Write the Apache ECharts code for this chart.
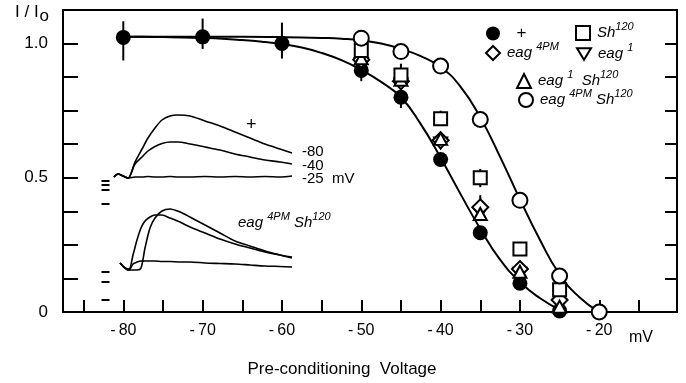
<!DOCTYPE html>
<html>
<head>
<meta charset="utf-8">
<script src="https://cdn.jsdelivr.net/npm/echarts@6/dist/echarts.min.js"></script>
<style>
html, body { margin: 0; background: #fff; }
#chart { width: 686px; height: 383px; }
</style>
</head>
<body>
<div id="chart"></div>
<script>
// main panel: inactivation vs pre-conditioning voltage
const xTicks = [-85, -80, -75, -70, -65, -60, -55, -50, -45, -40, -35, -30, -25, -20, -15]
const xLabels = [-80, -70, -60, -50, -40, -30, -20]

const wtVolts = [-80, -70, -60, -50, -45, -40, -35, -30, -25]
const wtVals = [1.023, 1.025, 1.0, 0.9, 0.8, 0.568, 0.295, 0.107, 0.004]

const mutVolts = [-50, -45, -40, -35, -30, -25]
const sh120Vals = [0.974, 0.883, 0.72, 0.5, 0.235, 0.083]
const eag4pmVals = [0.94, 0.86, 0.64, 0.39, 0.16, 0.045]
const eag1Vals = [0.925, 0.85, 0.63, 0.37, 0.145, 0.025]
const eag1ShVals = [0.945, 0.865, 0.645, 0.365, 0.15, 0.02]

const dblVolts = [-50, -45, -40, -35, -30, -25, -20]
const dblVals = [1.02, 0.97, 0.916, 0.717, 0.416, 0.134, 0.0]

// fitted curves
const fitWtV = [-80, -77.5, -75, -72.5, -70, -67.5, -65, -62.5, -60, -57.5, -55, -52.5, -50, -47.5, -45, -42.5, -40, -37.5, -35, -32.5, -30, -27.5, -25]
const fitWtI = [1.025, 1.025, 1.024, 1.023, 1.021, 1.018, 1.013, 1.007, 0.998, 0.985, 0.965, 0.938, 0.902, 0.857, 0.8, 0.7, 0.575, 0.44, 0.31, 0.195, 0.112, 0.052, 0.008]
const fitDblV = [-80, -75, -70, -65, -60, -57.5, -55, -52.5, -50, -47.5, -45, -42.5, -40, -37.5, -35, -32.5, -30, -27.5, -25, -22.5, -20]
const fitDblI = [1.025, 1.025, 1.025, 1.025, 1.024, 1.023, 1.021, 1.018, 1.012, 1.0, 0.98, 0.953, 0.912, 0.84, 0.725, 0.578, 0.42, 0.27, 0.14, 0.055, 0.0]

// error bars
const errV = [-80, -70, -60, -50, -45, -45, -40, -35, -35]
const errLo = [0.937, 0.98, 0.944, 0.86, 0.76, 0.87, 0.7, 0.465, 0.39]
const errHi = [1.083, 1.093, 1.078, 0.9, 0.8, 0.925, 0.75, 0.533, 0.435]

// inset current traces (arbitrary units)
const topT = [14, 18, 23, 28, 35, 42, 48, 55, 62, 70, 78, 90, 105, 120, 135, 150, 165, 180, 192]
const top80 = [133, 136, 134, 132, 148, 161, 172, 182, 190, 194, 195, 194, 189, 184, 178, 172, 166, 161, 157]
const top40 = [133, 136, 134, 132, 146, 153, 159, 163.5, 166.5, 168, 168, 166, 163, 160, 156, 153, 150, 148, 146]
const top25 = [133, 136, 134, 132, 133, 133, 133.5, 133, 133, 133.5, 133, 133, 133.5, 133, 133.5, 133, 133.5, 133, 134]

const botT = [20, 25, 29, 33, 37, 41, 45, 50, 55, 62, 70, 80, 90, 105, 120, 135, 150, 165, 180, 192]
const botA = [47, 42, 40, 40, 40, 42, 62, 82, 92, 99, 101, 98, 93, 85, 77, 69, 64, 59, 55, 53]
const botB = [47, 42, 41, 55, 70, 82, 89, 93, 95, 95, 92, 88, 83, 77, 71, 66, 62, 58, 55, 52]
const botC = [47, 42, 40, 46, 48, 49, 49, 49, 49, 48.5, 48.5, 48, 48, 47, 46.5, 46, 45, 44, 43.5, 43]

const dashT = [5.5, 5.5, 5.5, 5.5, 5.5, 5.5, 5.5]
const dashI = [129, 125, 120, 106, 38, 28, 10]

const FONT = "'Liberation Sans', Arial, sans-serif"
const zip = (a, b) => a.map((v, i) => [v, b[i]])

const rich = {
	n: { fontFamily: FONT, fontSize: 17, color: '#000' },
	i: { fontFamily: FONT, fontSize: 15, fontStyle: 'italic', color: '#000' },
	s: { fontFamily: FONT, fontSize: 11, fontStyle: 'italic', color: '#000', padding: [0, 0, 13, 0] }
}
const legendText = {
	wt: '{n|  +}',
	'Sh120': '{i|Sh}{s|120}',
	'eag4PM': '{i|eag }{s|4PM}',
	'eag1': '{i|eag }{s|1}',
	'eag1 Sh120': '{i|eag }{s|1}{i|  Sh}{s|120}',
	'eag4PM Sh120': '{i|eag }{s|4PM}{i| Sh}{s|120}'
}
const downTri = 'path://M0,0 L12,0 L6,10 Z'
const openStyle = { color: '#fff', borderColor: '#000', borderWidth: 2, opacity: 1 }
const solidStyle = { color: '#000', borderColor: '#000', borderWidth: 0, opacity: 1 }

function scatter(name, volts, vals, symbol, size, style, z) {
	return {
		name, type: 'scatter', xAxisIndex: 0, yAxisIndex: 0,
		data: zip(volts, vals), symbol, symbolSize: size,
		itemStyle: style, z, emphasis: { disabled: true }
	}
}

function legendAt(name, left, top, icon, style) {
	return {
		data: [name], left, top, padding: 0, icon,
		itemWidth: 14, itemHeight: 14, selectedMode: false,
		itemStyle: style,
		formatter: (n) => legendText[n],
		textStyle: { rich, padding: [0, 0, 0, 2] }
	}
}

function trace(t, v, label, offY) {
	return {
		type: 'line', xAxisIndex: 1, yAxisIndex: 2, data: zip(t, v),
		showSymbol: false, smooth: 0.3, z: 2,
		lineStyle: { color: '#000', width: 1.6 },
		endLabel: label ? {
			show: true, formatter: label, distance: 10, offset: [0, offY],
			fontFamily: FONT, fontSize: 15, color: '#000'
		} : { show: false },
		emphasis: { disabled: true }
	}
}

const chart = echarts.init(document.getElementById('chart'))

chart.setOption({
	animation: false,
	backgroundColor: '#fff',
	textStyle: { fontFamily: FONT },
	grid: [
		{ left: 63, right: 9, top: 10, bottom: 64, show: true, borderColor: '#000', borderWidth: 2 },
		{ left: 100, top: 100, width: 210, height: 210, show: false }
	],
	xAxis: [
		{
			type: 'value', min: -87.6, max: -10.2, gridIndex: 0,
			name: 'Pre-conditioning  Voltage', nameLocation: 'middle', nameGap: 49,
			nameTextStyle: { fontFamily: FONT, fontSize: 17, color: '#000', padding: [0, 56, 0, 0] },
			axisLine: { lineStyle: { color: '#000', width: 2 } },
			axisTick: { inside: true, length: 12, customValues: xTicks, lineStyle: { width: 2, color: '#000' } },
			axisLabel: {
				customValues: xLabels, margin: 11, fontFamily: FONT, fontSize: 16, color: '#000',
				formatter: (v) => '-\u2009' + Math.abs(v)
			},
			splitLine: { show: false }
		},
		{ type: 'value', min: 0, max: 210, gridIndex: 1, show: false }
	],
	yAxis: [
		{
			type: 'value', min: 0, max: 1.125, interval: 0.125, gridIndex: 0,
			axisLine: { show: true, lineStyle: { color: '#000', width: 2 } },
			axisTick: { inside: true, length: 15, lineStyle: { width: 2, color: '#000' } },
			axisLabel: {
				margin: 15, fontFamily: FONT, fontSize: 17, color: '#000',
				formatter: (v) => (v === 0 ? '0' : v === 0.5 ? '0.5' : v === 1 ? '1.0' : '')
			},
			splitLine: { show: false }
		},
		{
			type: 'value', min: 0, max: 1.125, interval: 0.125, gridIndex: 0, position: 'right',
			axisLine: { show: true, lineStyle: { color: '#000', width: 2 } },
			axisTick: { inside: true, length: 12, lineStyle: { width: 2, color: '#000' } },
			axisLabel: { show: false },
			splitLine: { show: false }
		},
		{ type: 'value', min: 0, max: 210, gridIndex: 1, show: false }
	],
	legend: [
		legendAt('wt', 486, 25, 'circle', solidStyle),
		legendAt('Sh120', 575, 21, 'rect', openStyle),
		legendAt('eag4PM', 485, 41, 'diamond', openStyle),
		legendAt('eag1', 576, 42, downTri, openStyle),
		legendAt('eag1 Sh120', 516, 69, 'triangle', openStyle),
		legendAt('eag4PM Sh120', 518, 88, 'circle', openStyle)
	],
	graphic: [
		{ type: 'text', left: 15, top: 4, style: { text: '{a|I / I}{b|o}', rich: {
			a: { fontFamily: FONT, fontSize: 17, color: '#000' },
			b: { fontFamily: FONT, fontSize: 17, color: '#000', padding: [8, 0, 0, 1] }
		} } },
		{ type: 'text', left: 629, top: 330, style: { text: 'mV', fontFamily: FONT, fontSize: 16, fill: '#000' } },
		{ type: 'text', left: 246, top: 116, style: { text: '+', fontFamily: FONT, fontSize: 18, fill: '#000' } },
		{ type: 'text', left: 238, top: 211, style: { text: '{i|eag }{s|4PM}{i| Sh}{s|120}', rich } }
	],
	series: [
		{
			type: 'custom', xAxisIndex: 0, yAxisIndex: 0, z: 1,
			data: errV.map((v, i) => [v, errLo[i], errHi[i]]),
			encode: { x: 0, y: [1, 2] },
			renderItem: (params, api) => {
				const lo = api.coord([api.value(0), api.value(1)])
				const hi = api.coord([api.value(0), api.value(2)])
				return { type: 'line', shape: { x1: lo[0], y1: lo[1], x2: hi[0], y2: hi[1] }, style: { stroke: '#000', lineWidth: 2 } }
			}
		},
		{
			type: 'line', xAxisIndex: 0, yAxisIndex: 0, data: zip(fitWtV, fitWtI), showSymbol: false,
			smooth: true, z: 2, lineStyle: { color: '#000', width: 2 }, emphasis: { disabled: true }
		},
		{
			type: 'line', xAxisIndex: 0, yAxisIndex: 0, data: zip(fitDblV, fitDblI), showSymbol: false,
			smooth: true, z: 2, lineStyle: { color: '#000', width: 2 }, emphasis: { disabled: true }
		},
		scatter('wt', wtVolts, wtVals, 'circle', 15, solidStyle, 3),
		scatter('eag1', mutVolts, eag1Vals, downTri, [13, 11], openStyle, 4),
		scatter('eag4PM', mutVolts, eag4pmVals, 'diamond', [16, 16], openStyle, 5),
		scatter('eag1 Sh120', mutVolts, eag1ShVals, 'triangle', [13, 12], openStyle, 6),
		scatter('Sh120', mutVolts, sh120Vals, 'rect', 13, openStyle, 7),
		scatter('eag4PM Sh120', dblVolts, dblVals, 'circle', 15, openStyle, 8),
		trace(topT, top80, '-80', -1),
		trace(topT, top40, '-40', 2),
		trace(topT, top25, '-25  mV', 3),
		trace(botT, botA, null, 0),
		trace(botT, botB, null, 0),
		trace(botT, botC, null, 0),
		{
			type: 'scatter', xAxisIndex: 1, yAxisIndex: 2, data: zip(dashT, dashI),
			symbol: 'rect', symbolSize: [8, 2], itemStyle: { color: '#000', opacity: 1 }, z: 2
		}
	]
})
</script>
</body>
</html>
